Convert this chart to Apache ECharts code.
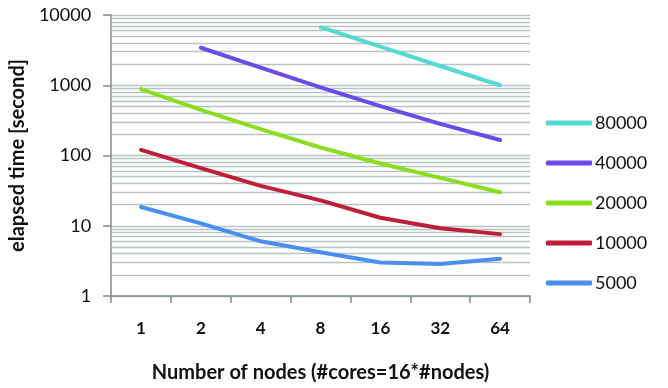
<!DOCTYPE html>
<html><head><meta charset="utf-8">
<script src="https://cdn.jsdelivr.net/npm/echarts@6/dist/echarts.min.js"></script>
<style>html,body{margin:0;padding:0;background:#fff}#c{width:668px;height:388px}</style>
</head><body><div id="c"></div>
<script>
var categories = ['1','2','4','8','16','32','64'];
var s5000  = [18.5, 10.8, 6.0, 4.2, 3.0, 2.85, 3.4];
var s10000 = [120, 66, 37, 23, 13, 9.2, 7.6];
var s20000 = [880, 445, 238, 130, 77, 48, 30];
var s40000 = [null, 3420, 1780, 930, 505, 282, 166];
var s80000 = [null, null, null, 6700, 3540, 1880, 1000];
var seriesNames = ['5000','10000','20000','40000','80000'];
var colors = ['#4a8ff0','#be1e37','#8ade1e','#6a4ae8','#55d9d1'];
var minorGridValues = [2,3,4,5,6,7,8,9,20,30,40,50,60,70,80,90,200,300,400,500,600,700,800,900,2000,3000,4000,5000,6000,7000,8000,9000];

var font = 'Lato, "Open Sans", sans-serif';
var dataList = [s5000, s10000, s20000, s40000, s80000];
var series = dataList.map(function (d, i) {
  var s = {
    name: seriesNames[i], type: 'line', data: d, showSymbol: false, symbol: 'none',
    lineStyle: { width: 4, color: colors[i], cap: 'round', join: 'round' },
    itemStyle: { color: colors[i] }, z: 5, connectNulls: false
  };
  if (i === 0) {
    s.markLine = {
      silent: true, symbol: 'none', animation: false, z: 1,
      label: { show: false },
      lineStyle: { color: '#b8c4c4', type: 'solid', width: 1.3 },
      data: minorGridValues.map(function (v) { return { yAxis: v }; })
    };
  }
  return s;
});

var chart = echarts.init(document.getElementById('c'), null, { renderer: 'canvas' });
chart.setOption({
  animation: false,
  backgroundColor: '#fff',
  textStyle: { fontFamily: font },
  grid: { left: 110, right: 138, top: 15, bottom: 92 },
  legend: {
    orient: 'vertical', left: 546, top: 114, padding: 0,
    data: seriesNames.slice().reverse(),
    icon: 'roundRect', itemWidth: 46, itemHeight: 5, itemGap: 22,
    textStyle: { fontFamily: font, fontSize: 18, color: '#111', padding: [0, 0, 0, -2] }
  },
  xAxis: {
    type: 'category', data: categories, boundaryGap: true,
    name: 'Number of nodes (#cores=16*#nodes)', nameLocation: 'middle', nameGap: 67,
    nameTextStyle: { fontFamily: font, fontSize: 20, fontWeight: 'bold', color: '#111' },
    axisLine: { lineStyle: { color: '#7f8c8c', width: 1.5 } },
    axisTick: { show: true, alignWithLabel: false, length: 7, lineStyle: { color: '#7f8c8c', width: 1.5 } },
    axisLabel: { fontFamily: font, fontSize: 17, fontWeight: 'bold', color: '#111', margin: 24 },
    splitLine: { show: false }
  },
  yAxis: {
    type: 'log', logBase: 10, min: 1, max: 10000,
    name: 'elapsed time [second]', nameLocation: 'middle', nameGap: 76,
    nameTextStyle: { fontFamily: font, fontSize: 20, fontWeight: 'bold', color: '#111' },
    axisLine: { show: true, lineStyle: { color: '#7f8c8c', width: 1.5 } },
    axisTick: { show: true, length: 8, lineStyle: { color: '#7f8c8c', width: 1.5 } },
    axisLabel: { fontFamily: font, fontSize: 18, color: '#111', margin: 20,
      formatter: function (v) { return String(Math.round(v)); } },
    splitLine: { show: true, lineStyle: { color: '#b8c4c4', width: 1.3 } },
    minorTick: { show: false }, minorSplitLine: { show: false }
  },
  series: series
});
</script></body></html>
